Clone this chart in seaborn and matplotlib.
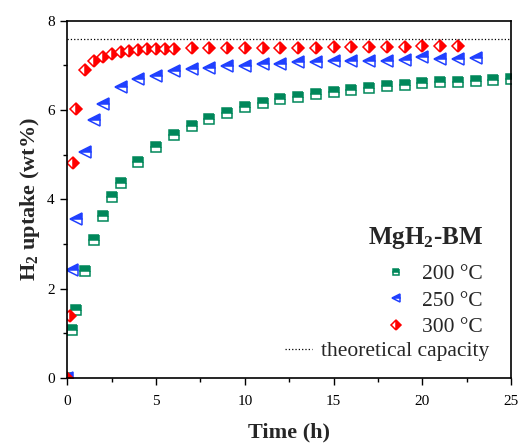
import matplotlib
matplotlib.use("Agg")
import matplotlib.pyplot as plt
import seaborn as sns
from matplotlib.ticker import MultipleLocator

sns.set_style("ticks")
plt.rcParams['font.family'] = ['Liberation Serif', 'DejaVu Serif']
plt.rcParams['mathtext.default'] = 'regular'

# hydrogen uptake data
t_200 = [0, 0.25, 0.5, 1, 1.5, 2, 2.5, 3, 4, 5, 6, 7, 8, 9, 10, 11, 12, 13,
         14, 15, 16, 17, 18, 19, 20, 21, 22, 23, 24, 25]
u_200 = [0, 1.08, 1.51, 2.39, 3.10, 3.63, 4.05, 4.36, 4.83, 5.18, 5.44, 5.65,
         5.81, 5.94, 6.06, 6.15, 6.24, 6.30, 6.35, 6.41, 6.46, 6.50, 6.53,
         6.57, 6.60, 6.62, 6.64, 6.65, 6.68, 6.69]

t_250 = [0, 0.25, 0.5, 1, 1.5, 2, 3, 4, 5, 6, 7, 8, 9, 10, 11, 12, 13, 14,
         15, 16, 17, 18, 19, 20, 21, 22, 23]
u_250 = [0, 2.41, 3.57, 5.07, 5.77, 6.14, 6.51, 6.69, 6.77, 6.87, 6.92,
         6.94, 6.98, 6.99, 7.03, 7.04, 7.08, 7.08, 7.09, 7.10, 7.11, 7.11,
         7.12, 7.18, 7.14, 7.15, 7.16]

t_300 = [0, 0.17, 0.33, 0.5, 1, 1.5, 2, 2.5, 3, 3.5, 4, 4.5, 5, 5.5, 6, 7,
         8, 9, 10, 11, 12, 13, 14, 15, 16, 17, 18, 19, 20, 21, 22]
u_300 = [0, 1.38, 4.81, 6.02, 6.90, 7.09, 7.20, 7.26, 7.30, 7.32, 7.35,
         7.37, 7.37, 7.38, 7.38, 7.40, 7.40, 7.40, 7.40, 7.40, 7.40, 7.40,
         7.40, 7.41, 7.41, 7.41, 7.41, 7.42, 7.44, 7.43, 7.44]

theoretical = 7.6

green = '#00875a'
blue = '#2040ff'
red = '#ff0000'

fig = plt.figure(figsize=(5.22, 4.44), dpi=100)
ax = fig.add_axes([0.129, 0.149, 0.850, 0.804])

series = [
    (t_200, u_200, '200 °C', green, 's', 'top', 7.0),
    (t_250, u_250, '250 °C', blue, '<', 'top', 8.5),
    (t_300, u_300, '300 °C', red, 'D', 'right', 6.6),
]
for t, u, lab, col, mk, fs, ms in series:
    sns.lineplot(x=t, y=u, ax=ax, label=lab, color=col, marker=mk,
                 linestyle='', fillstyle=fs, markersize=ms,
                 markeredgecolor=col, markerfacecoloralt='white',
                 markeredgewidth=1.1, estimator=None, sort=False)

cap_line = ax.axhline(theoretical, color='black', linestyle=':', linewidth=0.9,
                      label='theoretical capacity')

ax.set_xlim(0, 25)
ax.set_ylim(0, 8)
ax.xaxis.set_major_locator(MultipleLocator(5))
ax.xaxis.set_minor_locator(MultipleLocator(2.5))
ax.yaxis.set_major_locator(MultipleLocator(2))
ax.yaxis.set_minor_locator(MultipleLocator(1))
ax.tick_params(which='major', direction='out', length=5, width=1,
               labelsize=11, color='black', labelcolor='black', pad=4)
ax.tick_params(axis='x', which='major', pad=7)
ax.tick_params(which='minor', direction='out', length=3, width=1, color='black')
for sp in ax.spines.values():
    sp.set_linewidth(1.2)
    sp.set_color('black')
    sp.set_visible(True)

ax.set_xlabel('Time (h)', fontsize=16, fontweight='bold', labelpad=11)
ax.set_ylabel('H$_2$ uptake (wt%)', fontsize=16, fontweight='bold', labelpad=4)

ax.text(0.937, 0.391, 'MgH$_2$-BM', transform=ax.transAxes, ha='right',
        va='center', fontsize=18, fontweight='bold')

handles, labels = ax.get_legend_handles_labels()
leg1 = ax.legend(handles[:3], labels[:3], loc='upper right',
                 bbox_to_anchor=(0.936, 0.319), frameon=False,
                 fontsize=15.5, markerscale=0.7, handlelength=1.5,
                 handletextpad=0.45, labelspacing=0.3, borderpad=0,
                 borderaxespad=0)
ax.add_artist(leg1)
ax.legend([cap_line], ['theoretical capacity'], loc='upper right',
          bbox_to_anchor=(0.952, 0.103), frameon=False, fontsize=15.5,
          handlelength=1.25, handletextpad=0.45, borderpad=0, borderaxespad=0)

fig.savefig('out.png', dpi=100)
